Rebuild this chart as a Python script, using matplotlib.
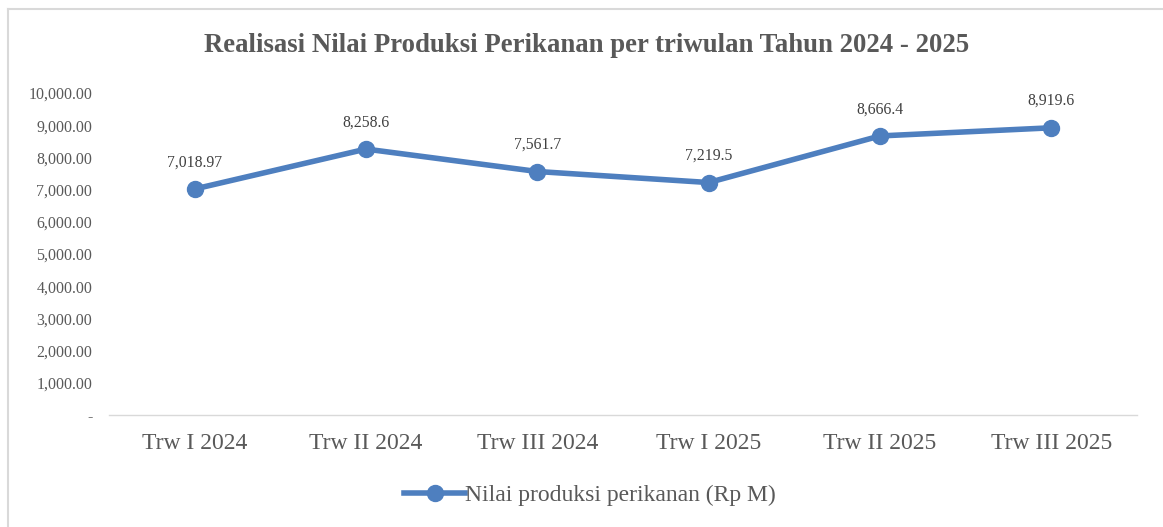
import matplotlib
matplotlib.use("Agg")
import matplotlib.pyplot as plt
from matplotlib.lines import Line2D
from matplotlib.ticker import FuncFormatter, MultipleLocator

categories = ["Trw I 2024", "Trw II 2024", "Trw III 2024", "Trw I 2025", "Trw II 2025", "Trw III 2025"]
values = [7018.97, 8258.6, 7561.7, 7219.5, 8666.4, 8919.6]
value_labels = ["7,018.97", "8,258.6", "7,561.7", "7,219.5", "8,666.4", "8,919.6"]
series_name = "Nilai produksi perikanan (Rp M)"
title = "Realisasi Nilai Produksi Perikanan per triwulan Tahun 2024 - 2025"

W, H = 1163, 527
fig = plt.figure(figsize=(W / 100, H / 100), dpi=100)
plt.rcParams['font.family'] = ['Liberation Serif', 'DejaVu Serif']

ax = fig.add_axes([109 / W, 1 - 415 / H, (1137 - 109) / W, (415 - 93) / H])
color = "#4E7FBF"
x = list(range(len(categories)))
ax.plot(x, values, color=color, lw=4, marker="o", ms=11.5, solid_capstyle="round",
        label=series_name, zorder=3)
for xi, v, lab in zip(x, values, value_labels):
    ax.annotate(lab, (xi, v), xytext=(0, 13.5), textcoords="offset points",
                ha="center", va="bottom", fontsize=11.3, color="#404040")

ax.set_xlim(-0.5, len(categories) - 0.5)
ax.set_ylim(0, 10000)
ax.yaxis.set_major_locator(MultipleLocator(1000))
ax.yaxis.set_major_formatter(FuncFormatter(lambda v, p: "-" if v == 0 else f"{v:,.2f}"))
ax.set_xticks(x)
ax.set_xticklabels(categories, fontsize=17, color="#595959")
for sp in ["top", "right", "left"]:
    ax.spines[sp].set_visible(False)
ax.spines["bottom"].set_color("#D9D9D9")
ax.spines["bottom"].set_linewidth(1.0)
ax.tick_params(axis="y", length=0, labelsize=11.5, labelcolor="#595959", pad=12)
ax.tick_params(axis="x", length=0, pad=13)

fig.text(587 / W, 1 - 45 / H, title, ha="center", va="center", fontsize=19.3,
         fontweight="bold", color="#595959")

handle = Line2D([], [], color=color, lw=4, marker="o", ms=11.5)
fig.legend([handle], [series_name], loc="center", bbox_to_anchor=(590 / W, 1 - 495 / H),
           frameon=False, fontsize=17, handlelength=2.6, handletextpad=0.0,
           labelcolor="#595959")

# chart border
fig.add_artist(Line2D([7.5 / W, 1], [1 - 8.5 / H, 1 - 8.5 / H], color="#D9D9D9", lw=1.5))
fig.add_artist(Line2D([7.5 / W, 7.5 / W], [0, 1 - 8.5 / H], color="#D9D9D9", lw=1.5))

fig.savefig("out.png", dpi=100)
